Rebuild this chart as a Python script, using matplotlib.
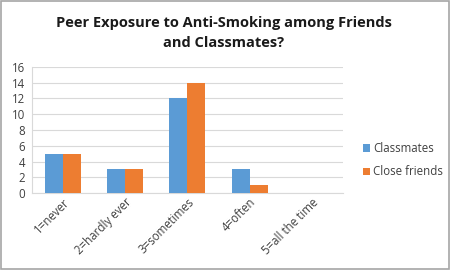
import numpy as np
import matplotlib
matplotlib.use("Agg")
from matplotlib import pyplot as plt

categories = ["1=never", "2=hardly ever", "3=sometimes", "4=often", "5=all the time"]
classmates = [5, 3, 12, 3, 0]
close_friends = [5, 3, 14, 1, 0]

plt.rcParams['font.family'] = ['Open Sans', 'DejaVu Sans']

fig = plt.figure(figsize=(4.5, 2.7), dpi=100)
ax = fig.add_axes([0.071, 0.285, 0.691, 0.467])

x = np.arange(len(categories))
w = 0.29
ax.bar(x - w/2, classmates, w, color="#5B9BD5", label="Classmates", zorder=3)
ax.bar(x + w/2, close_friends, w, color="#ED7D31", label="Close friends", zorder=3)

ax.set_xlim(-0.5, len(categories) - 0.5)
ax.set_ylim(0, 16)
ax.set_yticks(range(0, 17, 2))
ax.yaxis.grid(True, color="#D9D9D9", linewidth=0.8, zorder=0)
ax.tick_params(axis="y", length=0, labelsize=8.3, colors="#404040", pad=5)
ax.tick_params(axis="x", length=0, labelsize=8.3, colors="#404040", pad=2)
ax.set_xticks(x)
ax.set_xticklabels(categories, rotation=45, ha="right", rotation_mode="anchor")
for s in ["top", "right"]:
    ax.spines[s].set_visible(False)
for s in ["left", "bottom"]:
    ax.spines[s].set_color("#D9D9D9")
    ax.spines[s].set_linewidth(0.8)

fig.text(0.497, 0.94, "Peer Exposure to Anti-Smoking among Friends\nand Classmates?",
         ha="center", va="top", fontsize=10.5, fontweight="bold", color="#1a1a1a",
         linespacing=1.55)

ax.legend(loc="center left", bbox_to_anchor=(1.03, 0.26), frameon=False,
          fontsize=8.3, handlelength=0.6, handleheight=0.6, handletextpad=0.3,
          labelspacing=0.9, labelcolor="#404040")

fig.patches.append(plt.Rectangle((0.002, 0.003), 0.995, 0.994, transform=fig.transFigure,
                                 fill=False, edgecolor="#A6A6A6", linewidth=1.2))

fig.savefig("out.png", dpi=100)
